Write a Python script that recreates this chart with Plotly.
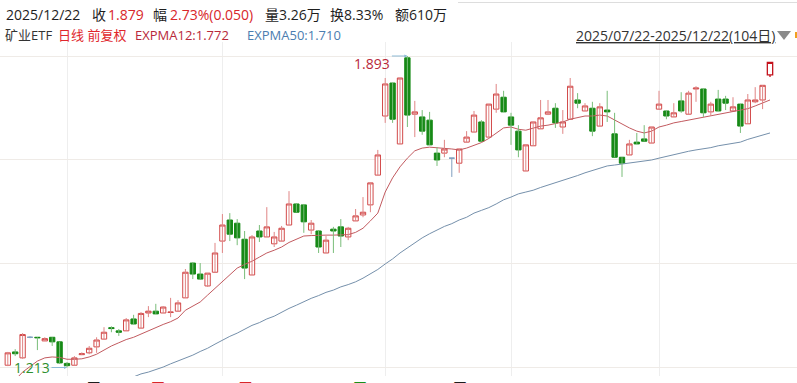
import plotly.graph_objects as go

# ---------------- data ----------------
month_start_labels = ["2025/08/01", "2025/09/01", "2025/10/09", "2025/11/03", "2025/12/01"]
month_start_idx = [8, 29, 51, 68, 88]

opens = [1.218, 1.247, 1.234, 1.279, 1.279, 1.271, 1.279, 1.269, 1.222, 1.218,
         1.241, 1.245, 1.258, 1.275, 1.300, 1.293, 1.293, 1.319, 1.299, 1.332,
         1.336, 1.332, 1.333, 1.336, 1.365, 1.441, 1.417, 1.391, 1.421, 1.489,
         1.535, 1.528, 1.493, 1.415, 1.511, 1.498, 1.483, 1.489, 1.524, 1.570,
         1.568, 1.513, 1.511, 1.463, 1.515, 1.520, 1.498, 1.533, 1.546, 1.568,
         1.633, 1.762, 1.834, 1.701, 1.889, 1.766, 1.760, 1.753, 1.681, 1.681,
         1.670, 1.659, 1.705, 1.727, 1.749, 1.716, 1.777, 1.803, 1.760, 1.729,
         1.642, 1.697, 1.734, 1.766, 1.779, 1.738, 1.755, 1.797, 1.773, 1.779,
         1.740, 1.775, 1.723, 1.672, 1.677, 1.705, 1.712, 1.703, 1.777, 1.773,
         1.760, 1.795, 1.766, 1.821, 1.821, 1.771, 1.799, 1.799, 1.773, 1.788,
         1.745, 1.793, 1.797, 1.852]
highs = [1.247, 1.253, 1.288, 1.281, 1.279, 1.279, 1.279, 1.269, 1.225, 1.238,
         1.246, 1.260, 1.279, 1.301, 1.303, 1.297, 1.321, 1.328, 1.334, 1.347,
         1.352, 1.347, 1.365, 1.360, 1.428, 1.443, 1.441, 1.419, 1.485, 1.548,
         1.550, 1.537, 1.511, 1.502, 1.524, 1.563, 1.509, 1.522, 1.598, 1.572,
         1.570, 1.535, 1.513, 1.500, 1.520, 1.537, 1.520, 1.559, 1.585, 1.616,
         1.688, 1.845, 1.834, 1.845, 1.893, 1.795, 1.775, 1.771, 1.694, 1.710,
         1.670, 1.690, 1.729, 1.773, 1.753, 1.788, 1.832, 1.817, 1.769, 1.742,
         1.699, 1.749, 1.797, 1.797, 1.790, 1.775, 1.845, 1.812, 1.790, 1.793,
         1.790, 1.817, 1.769, 1.672, 1.710, 1.725, 1.742, 1.738, 1.817, 1.773,
         1.790, 1.814, 1.817, 1.827, 1.821, 1.793, 1.819, 1.806, 1.803, 1.788,
         1.810, 1.825, 1.829, 1.879]
lows = [1.216, 1.238, 1.232, 1.277, 1.251, 1.271, 1.260, 1.221, 1.213, 1.218,
        1.240, 1.242, 1.245, 1.275, 1.290, 1.282, 1.293, 1.308, 1.299, 1.323,
        1.330, 1.332, 1.323, 1.336, 1.365, 1.406, 1.406, 1.389, 1.421, 1.463,
        1.489, 1.480, 1.406, 1.415, 1.487, 1.498, 1.476, 1.489, 1.524, 1.552,
        1.507, 1.504, 1.463, 1.463, 1.463, 1.476, 1.491, 1.533, 1.541, 1.552,
        1.633, 1.747, 1.747, 1.701, 1.738, 1.716, 1.721, 1.699, 1.653, 1.672,
        1.629, 1.638, 1.705, 1.727, 1.707, 1.716, 1.769, 1.771, 1.699, 1.672,
        1.642, 1.697, 1.734, 1.764, 1.736, 1.723, 1.755, 1.779, 1.773, 1.718,
        1.740, 1.749, 1.672, 1.629, 1.677, 1.701, 1.707, 1.703, 1.777, 1.755,
        1.760, 1.769, 1.766, 1.793, 1.760, 1.762, 1.773, 1.775, 1.773, 1.725,
        1.745, 1.790, 1.777, 1.847]
closes = [1.245, 1.243, 1.285, 1.279, 1.278, 1.276, 1.269, 1.223, 1.217, 1.234,
          1.243, 1.255, 1.273, 1.290, 1.298, 1.290, 1.317, 1.308, 1.331, 1.336,
          1.330, 1.345, 1.334, 1.354, 1.421, 1.417, 1.406, 1.419, 1.463, 1.524,
          1.504, 1.496, 1.430, 1.498, 1.498, 1.520, 1.498, 1.517, 1.570, 1.552,
          1.531, 1.528, 1.476, 1.491, 1.511, 1.500, 1.517, 1.544, 1.552, 1.616,
          1.677, 1.832, 1.755, 1.845, 1.764, 1.771, 1.729, 1.699, 1.666, 1.690,
          1.670, 1.690, 1.716, 1.764, 1.707, 1.788, 1.810, 1.771, 1.742, 1.688,
          1.699, 1.749, 1.758, 1.771, 1.747, 1.749, 1.827, 1.790, 1.784, 1.729,
          1.782, 1.771, 1.672, 1.659, 1.701, 1.701, 1.707, 1.738, 1.788, 1.762,
          1.769, 1.773, 1.812, 1.823, 1.769, 1.788, 1.773, 1.790, 1.782, 1.740,
          1.797, 1.797, 1.829, 1.879]
expma12 = [1.164, 1.186, 1.203, 1.216, 1.227, 1.234, 1.236, 1.235, 1.231, 1.231,
           1.232, 1.236, 1.242, 1.251, 1.260, 1.267, 1.274, 1.279, 1.286, 1.294,
           1.300, 1.307, 1.313, 1.321, 1.338, 1.347, 1.356, 1.371, 1.386, 1.402,
           1.417, 1.430, 1.438, 1.445, 1.454, 1.463, 1.469, 1.476, 1.486, 1.493,
           1.500, 1.501, 1.502, 1.502, 1.502, 1.502, 1.503, 1.508, 1.517, 1.533,
           1.550, 1.596, 1.627, 1.651, 1.670, 1.686, 1.692, 1.694, 1.693, 1.692,
           1.690, 1.688, 1.692, 1.698, 1.704, 1.713, 1.725, 1.736, 1.738, 1.733,
           1.731, 1.735, 1.740, 1.742, 1.745, 1.749, 1.755, 1.759, 1.762, 1.762,
           1.764, 1.762, 1.753, 1.745, 1.736, 1.729, 1.725, 1.729, 1.738, 1.742,
           1.747, 1.750, 1.753, 1.757, 1.760, 1.762, 1.765, 1.769, 1.771, 1.774,
           1.778, 1.784, 1.790, 1.797]
expma50 = [1.094, 1.100, 1.105, 1.111, 1.116, 1.122, 1.129, 1.133, 1.140, 1.146,
           1.151, 1.157, 1.164, 1.168, 1.175, 1.179, 1.186, 1.192, 1.199, 1.203,
           1.208, 1.214, 1.221, 1.227, 1.234, 1.240, 1.248, 1.255, 1.264, 1.273,
           1.281, 1.288, 1.297, 1.305, 1.311, 1.319, 1.325, 1.334, 1.342, 1.349,
           1.357, 1.364, 1.370, 1.377, 1.382, 1.389, 1.394, 1.400, 1.408, 1.417,
           1.427, 1.439, 1.450, 1.463, 1.474, 1.485, 1.496, 1.505, 1.513, 1.521,
           1.527, 1.535, 1.541, 1.550, 1.556, 1.562, 1.570, 1.579, 1.585, 1.592,
           1.596, 1.600, 1.606, 1.611, 1.617, 1.621, 1.627, 1.632, 1.638, 1.643,
           1.647, 1.653, 1.655, 1.657, 1.659, 1.661, 1.663, 1.666, 1.670, 1.674,
           1.677, 1.681, 1.685, 1.688, 1.690, 1.693, 1.697, 1.700, 1.703, 1.705,
           1.711, 1.716, 1.721, 1.725]

# ---------------- styling ----------------
W, H = 797, 383
PLOT_TOP, PLOT_BOTTOM = 42, 376
UP_LINE = "#d24a4a"
UP_WICK = "#e08585"
DN_FILL = "#178a17"
DN_WICK = "#79bd79"
FLAT_COL = "#7f9fbf"
LAST_COL = "#c4121c"
GRID = "#efebe7"
FONT = "Open Sans, Noto Sans CJK SC, sans-serif"

n = len(closes)
idx = list(range(n))
last = n - 1

# split candles into normal / flat / last
m_o, m_h, m_l, m_c = [], [], [], []
up_wx, up_wy, dn_wx, dn_wy = [], [], [], []
f_x, f_o, f_h, f_l, f_c = [], [], [], [], []
for i in idx:
    o, h, l, c = opens[i], highs[i], lows[i], closes[i]
    if i == last or o == c:
        m_o.append(None); m_h.append(None); m_l.append(None); m_c.append(None)
        if o == c:
            f_x.append(i); f_o.append(o); f_h.append(h); f_l.append(l); f_c.append(c)
        continue
    m_o.append(o); m_c.append(c)
    m_h.append(max(o, c)); m_l.append(min(o, c))
    if c > o:
        up_wx += [i, i, None]; up_wy += [l, h, None]
    else:
        dn_wx += [i, i, None]; dn_wy += [l, h, None]

fig = go.Figure()

fig.add_trace(go.Scatter(x=idx, y=expma50, mode="lines",
                         line=dict(color="#7590ab", width=1), hoverinfo="skip"))
fig.add_trace(go.Scatter(x=idx, y=expma12, mode="lines",
                         line=dict(color="#c25a5f", width=1), hoverinfo="skip"))
fig.add_trace(go.Scatter(x=up_wx, y=up_wy, mode="lines",
                         line=dict(color=UP_WICK, width=1), hoverinfo="skip"))
fig.add_trace(go.Scatter(x=dn_wx, y=dn_wy, mode="lines",
                         line=dict(color=DN_WICK, width=1), hoverinfo="skip"))
fig.add_trace(go.Candlestick(
    x=idx, open=m_o, high=m_h, low=m_l, close=m_c,
    increasing=dict(line=dict(color=UP_LINE, width=1), fillcolor="white"),
    decreasing=dict(line=dict(color=DN_FILL, width=1), fillcolor=DN_FILL),
    whiskerwidth=0, hoverinfo="skip"))
fig.add_trace(go.Candlestick(
    x=f_x, open=f_o, high=f_h, low=f_l, close=f_c,
    increasing=dict(line=dict(color=FLAT_COL, width=1), fillcolor=FLAT_COL),
    decreasing=dict(line=dict(color=FLAT_COL, width=1), fillcolor=FLAT_COL),
    whiskerwidth=0, hoverinfo="skip"))
fig.add_trace(go.Candlestick(
    x=[last], open=[opens[last]], high=[highs[last]], low=[lows[last]], close=[closes[last]],
    increasing=dict(line=dict(color=LAST_COL, width=1.3), fillcolor="white"),
    decreasing=dict(line=dict(color=LAST_COL, width=1.3), fillcolor="white"),
    whiskerwidth=0, hoverinfo="skip"))

# horizontal grid: price extremes split into thirds
y_hi = max(highs)
y_lo = min(lows)
grid_vals = [y_lo + k * (y_hi - y_lo) / 3 for k in range(4)]
px_per_unit = (376 - 56) / 1.0  # placeholder not used
# y-axis range so that y_hi sits at pixel 56 and y_lo at 367.5
scale = (367.5 - 56) / (y_hi - y_lo)
y_top = y_hi + (56 - PLOT_TOP) / scale
y_bot = y_lo - (PLOT_BOTTOM - 367.5) / scale

step = 7.4
x_first = 7.8
x_min = -x_first / step
x_max = (W - x_first) / step

i_hi = highs.index(y_hi)
i_lo = lows.index(y_lo)


def py(p):
    """pixel-y to paper-y"""
    return (PLOT_BOTTOM - p) / (PLOT_BOTTOM - PLOT_TOP)


def px(p):
    return p / W


ann = []


def text(x, y, s, color, size, xanchor="left", yanchor="middle"):
    ann.append(dict(x=px(x), y=py(y), xref="paper", yref="paper", text=s,
                    showarrow=False, xanchor=xanchor, yanchor=yanchor,
                    font=dict(family=FONT, size=size, color=color), borderpad=0))


BLACK = "#1e1e1e"
RED = "#d8262a"
# header row 1
text(5, 14.5, "2025/12/22", BLACK, 14)
text(91, 14.5, "收", BLACK, 14)
text(107, 14.5, "1.879", RED, 14)
text(152, 14.5, "幅", BLACK, 14)
text(169, 14.5, "2.73%(0.050)", RED, 14)
text(264, 14.5, "量3.26万", BLACK, 14)
text(329, 14.5, "换8.33%", BLACK, 14)
text(394, 14.5, "额610万", BLACK, 14)
# header row 2
text(4, 34.5, "矿业ETF", "#333333", 13)
text(57, 34.5, "日线 前复权", "#e0262c", 13)
text(134, 34.5, "EXPMA12:1.772", "#b8283a", 13)
text(246, 34.5, "EXPMA50:1.710", "#4b7db0", 13)
text(776, 35, "<u>2025/07/22-2025/12/22(104日)</u>", "#333333", 14, xanchor="right")
# bottom (mostly cut off) indicator row
text(4, 377, "VOLUME:3.26万", BLACK, 13, yanchor="top")
text(94, 377, "MA5:3.28万", RED, 13, yanchor="top")
text(174, 377, "MA10:3.83万", RED, 13, yanchor="top")
text(264, 377, "MAVOL10:4.25万", "#1a8f1a", 13, yanchor="top")
text(364, 377, "MAVOL20:4.26万", BLACK, 13, yanchor="top")

# high / low markers
ann.append(dict(x=i_hi, y=y_hi, xref="x", yref="y", text="", showarrow=True,
                ax=-17, ay=0, arrowhead=2, arrowsize=0.6, arrowwidth=1,
                arrowcolor="#8cbad6", standoff=0))
ann.append(dict(x=i_hi, y=y_hi, xref="x", yref="y", text=f"{y_hi:.3f}",
                showarrow=False, xanchor="right", yanchor="middle", xshift=-16,
                yshift=-7, font=dict(family=FONT, size=14, color="#b8283a"), borderpad=0))
ann.append(dict(x=i_lo, y=y_lo, xref="x", yref="y", text="", showarrow=True,
                ax=-17, ay=0, arrowhead=2, arrowsize=0.6, arrowwidth=1,
                arrowcolor="#8cbad6", standoff=0))
ann.append(dict(x=i_lo, y=y_lo, xref="x", yref="y", text=f"{y_lo:.3f}",
                showarrow=False, xanchor="right", yanchor="middle", xshift=-16,
                yshift=0, font=dict(family=FONT, size=14, color="#2e8f2e"), borderpad=0))

shapes = [
    dict(type="line", xref="paper", yref="paper", x0=px(458), x1=1, y0=py(2.5), y1=py(2.5),
         line=dict(color="#dddddd", width=1)),
    dict(type="path", xref="paper", yref="paper",
         path=f"M {px(777)} {py(31)} L {px(791)} {py(31)} L {px(784)} {py(40)} Z",
         fillcolor="#8a8a8a", line=dict(width=0)),
    dict(type="rect", xref="paper", yref="paper", x0=px(795), x1=1, y0=py(38), y1=py(32),
         fillcolor="#f0a020", line=dict(width=0)),
]

fig.update_layout(
    width=W, height=H,
    margin=dict(l=0, r=0, t=PLOT_TOP, b=H - PLOT_BOTTOM, pad=0),
    paper_bgcolor="white", plot_bgcolor="white",
    showlegend=False,
    boxgap=0.15, boxgroupgap=0.15,
    xaxis=dict(range=[x_min, x_max], tickvals=month_start_idx, showticklabels=False,
               showgrid=True, gridcolor="#eeeeee", gridwidth=1, zeroline=False,
               showline=False, ticks="", rangeslider=dict(visible=False), fixedrange=True),
    yaxis=dict(range=[y_bot, y_top], tickvals=grid_vals, showticklabels=False,
               showgrid=True, gridcolor=GRID, gridwidth=1, zeroline=False,
               showline=False, ticks="", fixedrange=True),
    annotations=ann,
    shapes=shapes,
)

fig.write_html("out.html", config=dict(displayModeBar=False),
               post_script="document.body.style.margin='0';document.body.style.overflow='hidden';")
